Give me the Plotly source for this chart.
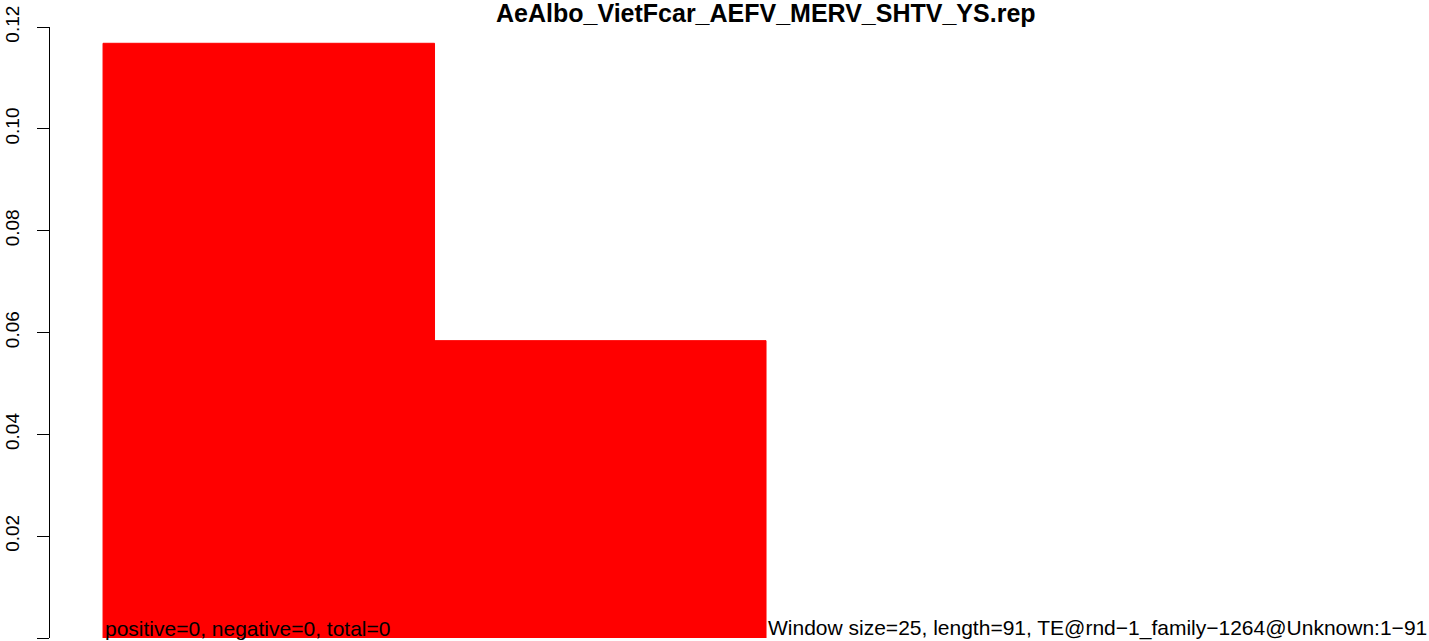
import plotly.graph_objects as go

# Data
bin_starts = [0, 25]
bin_width = 25
densities = [0.1168, 0.0584]
y_ticks = [0.00, 0.02, 0.04, 0.06, 0.08, 0.10, 0.12]
y_tick_labels = ["0.00", "0.02", "0.04", "0.06", "0.08", "0.10", "0.12"]
title_text = "AeAlbo_VietFcar_AEFV_MERV_SHTV_YS.rep"
left_note = "positive=0, negative=0, total=0"
right_note = "Window size=25, length=91, TE@rnd\u22121_family\u22121264@Unknown:1\u221291"

centers = [s + bin_width / 2 for s in bin_starts]

FONT = "Liberation Sans, Arial, Helvetica, sans-serif"

fig = go.Figure()
fig.add_trace(go.Bar(
    x=centers, y=densities, width=[bin_width] * len(centers),
    marker=dict(color="#ff0000", line=dict(width=1, color="#ff0000")),
    hoverinfo="skip", showlegend=False,
))

fig.update_layout(
    width=1429, height=641,
    margin=dict(l=50, r=0, t=27, b=3, pad=0, autoexpand=False),
    paper_bgcolor="white", plot_bgcolor="white",
    font=dict(family=FONT, color="black"),
    xaxis=dict(range=[-4, 100], visible=False, fixedrange=True, automargin=False),
    yaxis=dict(
        range=[0, 0.12], tickmode="array", tickvals=y_ticks, ticktext=y_tick_labels,
        showline=True, linecolor="black", linewidth=1,
        ticks="outside", ticklen=12, tickwidth=1, tickcolor="black",
        tickangle=-90, tickfont=dict(size=19, family=FONT, color="black"),
        showgrid=False, zeroline=False, ticklabelstandoff=10, automargin=False,
    ),
    annotations=[
        dict(text="<b>" + title_text + "</b>", x=50, xref="x", y=1, yref="paper",
             xanchor="center", yanchor="bottom", yshift=-2, showarrow=False,
             font=dict(size=25, family=FONT, color="black")),
        dict(text=left_note, x=bin_starts[0], xref="x", y=0, yref="y",
             xanchor="left", yanchor="bottom", yshift=-4, showarrow=False,
             font=dict(size=21, family=FONT, color="black")),
        dict(text=right_note, x=bin_starts[-1] + bin_width, xref="x", y=0, yref="y",
             xanchor="left", yanchor="bottom", yshift=-4, showarrow=False,
             font=dict(size=21, family=FONT, color="black")),
    ],
)

fig.write_html(
    "out.html",
    config={"displayModeBar": False},
    post_script="document.body.style.margin='0';document.body.style.overflow='hidden';",
)
